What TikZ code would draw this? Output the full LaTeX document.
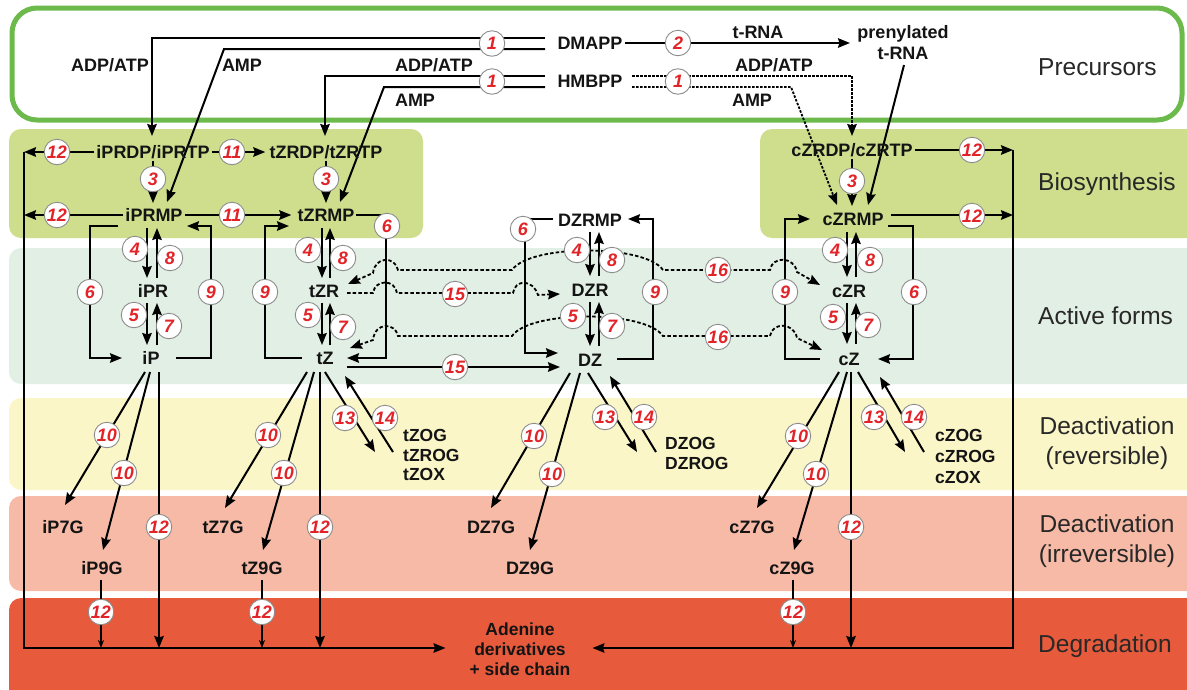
\documentclass[tikz,border=0pt]{standalone}
\usepackage{fontspec}
\setmainfont{Liberation Sans}
\usetikzlibrary{arrows.meta,calc}
\pgfdeclarelayer{bg}
\pgfdeclarelayer{lines}
\pgfsetlayers{bg,lines,main}
\definecolor{pregreen}{RGB}{108,186,76}
\definecolor{bio}{RGB}{206,222,140}
\definecolor{act}{RGB}{226,239,228}
\definecolor{dre}{RGB}{250,246,200}
\definecolor{dirr}{RGB}{246,186,166}
\definecolor{deg}{RGB}{231,90,60}
\definecolor{numred}{RGB}{226,35,40}
\definecolor{cgray}{RGB}{140,140,140}
\definecolor{txt}{RGB}{20,20,20}
\definecolor{rtxt}{RGB}{40,40,40}
\begin{document}
\begin{tikzpicture}[x=1pt,y=-1pt,
 >={Stealth[length=12pt,width=9.5pt,inset=1.5pt]},
 lbl/.style={font=\bfseries\fontsize{18}{21}\selectfont, text=txt, inner sep=2pt, text height=13pt, text depth=0pt},
 mlbl/.style={font=\bfseries\fontsize{18}{21}\selectfont, text=txt, inner sep=2pt, align=center},
 glbl/.style={font=\bfseries\fontsize{17.5}{#1}\selectfont, text=txt, inner sep=0pt, align=left, anchor=west},
 num/.style={circle, draw=cgray, line width=0.9pt, fill=white, minimum size=25.5pt, inner sep=0pt, font=\bfseries\itshape\fontsize{18}{18}\selectfont, text=numred},
 ln/.style={line width=2pt, draw=black},
 arr/.style={ln,->},
 dsh/.style={line width=1.8pt, dash pattern=on 3.5pt off 2.2pt},
 dotl/.style={line width=1.8pt, dash pattern=on 2.5pt off 1.5pt},
 thinarr/.style={line width=1.4pt, -{Stealth[length=8pt,width=6pt]}},
 region/.style={font=\fontsize{24.5}{30}\selectfont, text=rtxt, inner sep=0pt},
 rone/.style={region, anchor=west, text height=17.5pt, text depth=0pt},
 rtwo/.style={region, align=center},
]
\useasboundingbox (0,0) rectangle (1187,689);
\clip (0,0) rectangle (1187,689);

% ---------------- bands
\begin{pgfonlayer}{bg}
\fill[white] (0,0) rectangle (1187,689);
\draw[line width=5pt, draw=pregreen, fill=white, rounded corners=25pt] (12,8) rectangle (1182,120);
\fill[bio, rounded corners=12pt] (9,129) rectangle (423,238);
\fill[bio, rounded corners=12pt] (760,129) rectangle (1205,238);
\fill[act, rounded corners=12pt] (9,248) rectangle (1205,384);
\fill[dre, rounded corners=12pt] (9,398) rectangle (1205,490);
\fill[dirr, rounded corners=12pt] (9,496) rectangle (1205,591);
\fill[deg, rounded corners=12pt] (9,598) rectangle (1205,705);
\end{pgfonlayer}

% ---------------- region labels
\node[rone] (rPre) at (1038,67) {Precursors};
\node[rone] (rBio) at (1038,182) {Biosynthesis};
\node[rone] (rAct) at (1038,316) {Active forms};
\node[rtwo] (rDre) at (1107,443) {Deactivation\\(reversible)};
\node[rtwo] (rDir) at (1107,541) {Deactivation\\(irreversible)};
\node[rone] (rDeg) at (1038,644) {Degradation};

% ---------------- compound labels
\node[lbl] (DMAPP) at (590,43) {DMAPP};
\node[lbl] (HMBPP) at (590,81) {HMBPP};
\node[mlbl] (tRNAp) at (903,43) {prenylated\\t-RNA};
\node[lbl] (tRNA) at (758,32) {t-RNA};
\node[lbl] (adp1) at (110,65) {ADP/ATP};
\node[lbl] (amp1) at (242,65) {AMP};
\node[lbl] (adp2) at (434,65) {ADP/ATP};
\node[lbl] (amp2) at (415,100) {AMP};
\node[lbl] (adp3) at (774,65) {ADP/ATP};
\node[lbl] (amp3) at (752,100) {AMP};

\node[lbl] (iPRDP) at (153,152) {iPRDP/iPRTP};
\node[lbl] (tZRDP) at (326,152) {tZRDP/tZRTP};
\node[lbl] (cZRDP) at (852,150) {cZRDP/cZRTP};
\node[lbl] (iPRMP) at (154,215) {iPRMP};
\node[lbl] (tZRMP) at (326,215) {tZRMP};
\node[lbl] (DZRMP) at (590,220) {DZRMP};
\node[lbl] (cZRMP) at (853,219) {cZRMP};
\node[lbl] (iPR) at (153,291) {iPR};
\node[lbl] (tZR) at (324,291) {tZR};
\node[lbl] (DZR) at (590,290) {DZR};
\node[lbl] (cZR) at (849,291) {cZR};
\node[lbl] (iP) at (151,358) {iP};
\node[lbl] (tZ) at (325,358) {tZ};
\node[lbl] (DZ) at (590,360) {DZ};
\node[lbl] (cZ) at (849,359) {cZ};
\node[lbl] (iP7G) at (63,527) {iP7G};
\node[lbl] (iP9G) at (102,568) {iP9G};
\node[lbl] (tZ7G) at (223,527) {tZ7G};
\node[lbl] (tZ9G) at (262,568) {tZ9G};
\node[lbl] (DZ7G) at (491,527) {DZ7G};
\node[lbl] (DZ9G) at (530,568) {DZ9G};
\node[lbl] (cZ7G) at (752,527) {cZ7G};
\node[lbl] (cZ9G) at (792,568) {cZ9G};
\node[glbl=19.5] (tZOG) at (403,455) {tZOG\\tZROG\\tZOX};
\node[glbl=20] (DZOG) at (665,453) {DZOG\\DZROG};
\node[glbl=21] (cZOG) at (935,456) {cZOG\\cZROG\\cZOX};
\node[mlbl, font=\bfseries\fontsize{17.5}{20}\selectfont] (Aden) at (520,649) {Adenine\\derivatives\\+ side chain};

\coordinate (Ltop) at (24,152);
\coordinate (Lbot) at (24,648);
\coordinate (Rtop) at (1013,150);
\coordinate (Rbot) at (1013,648);

% ---------------- number circles
\node[num] (c1a) at (492,43.5) {1};
\node[num] (c1b) at (492,81.5) {1};
\node[num] (c1c) at (678,81.5) {1};
\node[num] (c2) at (678,43) {2};
\node[num] (c12a) at (57,152) {12};
\node[num] (c11a) at (232,152) {11};
\node[num] (c3a) at (153,179) {3};
\node[num] (c3b) at (326,179) {3};
\node[num] (c12b) at (57,215) {12};
\node[num] (c11b) at (232,215) {11};
\node[num] (c12c) at (972,150) {12};
\node[num] (c3c) at (852,181) {3};
\node[num] (c12d) at (972,216) {12};
% iP column
\node[num] (iP4) at (135,249) {4};
\node[num] (iP8) at (170,258) {8};
\node[num] (iP5) at (134,315) {5};
\node[num] (iP7) at (169,326) {7};
\node[num] (iP6) at (90,292) {6};
\node[num] (iP9) at (211,292) {9};
% tZ column
\node[num] (tZ4) at (308,250) {4};
\node[num] (tZ8) at (343,258) {8};
\node[num] (tZ5) at (308,315) {5};
\node[num] (tZ7) at (343,327) {7};
\node[num] (tZ9) at (265,292) {9};
\node[num] (tZ6) at (387,226) {6};
% DZ column
\node[num] (DZ6) at (523,229) {6};
\node[num] (DZ4) at (577,250) {4};
\node[num] (DZ8) at (612,260) {8};
\node[num] (DZ5) at (573,316) {5};
\node[num] (DZ7) at (612,326) {7};
\node[num] (DZ9) at (655,292) {9};
\node[num] (c15a) at (455,294) {15};
\node[num] (c15b) at (455,367) {15};
\node[num] (c16a) at (718,270) {16};
\node[num] (c16b) at (718,337) {16};
% cZ column
\node[num] (cZ9) at (785,292) {9};
\node[num] (cZ6) at (914,292) {6};
\node[num] (cZ4) at (835,250) {4};
\node[num] (cZ8) at (870,260) {8};
\node[num] (cZ5) at (833,317) {5};
\node[num] (cZ7) at (868,325) {7};
% deactivation
\node[num] (iP10a) at (107,435) {10};
\node[num] (iP10b) at (124,473) {10};
\node[num] (iP12) at (159,527) {12};
\node[num] (tZ10a) at (268,435) {10};
\node[num] (tZ10b) at (284,473) {10};
\node[num] (tZ12) at (320,527) {12};
\node[num] (tZ13) at (345,418) {13};
\node[num] (tZ14) at (385,418) {14};
\node[num] (DZ10a) at (534,436) {10};
\node[num] (DZ10b) at (552,474) {10};
\node[num] (DZ13) at (605,417) {13};
\node[num] (DZ14) at (644,417) {14};
\node[num] (cZ10a) at (798,436) {10};
\node[num] (cZ10b) at (816,474) {10};
\node[num] (cZ12) at (851,527) {12};
\node[num] (cZ13) at (874,417) {13};
\node[num] (cZ14) at (914,417) {14};
\node[num] (g12a) at (101,612) {12};
\node[num] (g12b) at (262,612) {12};
\node[num] (g12c) at (793,612) {12};

% ---------------- connectors
\begin{pgfonlayer}{lines}
% precursors
\draw[arr] ($(DMAPP)+(-45,-5)$) -| ($(iPRDP)+(-1,-16)$);
\draw[arr] ($(DMAPP)+(-45,6)$) -- (224,49) -- ($(iPRMP)+(13,-13)$);
\draw[arr] ($(HMBPP)+(-45,-5)$) -| ($(tZRDP)+(-1,-16)$);
\draw[arr] ($(HMBPP)+(-45,6)$) -- (384,87) -- ($(tZRMP)+(14,-13)$);
\draw[dotl,->] ($(HMBPP)+(42,-5)$) -| ($(cZRDP)+(0,-14)$);
\draw[dotl,->] ($(HMBPP)+(42,6)$) -- (791,87) -- ($(cZRMP)+(-16,-14)$);
\draw[arr] (DMAPP.east) -- ($(tRNAp)+(-53,0)$);
\draw[arr] ($(tRNAp)+(1,22)$) -- ($(cZRMP)+(15,-14)$);
% biosynthesis
\draw[arr] (iPRDP.west) -- (Ltop);
\draw[arr] (iPRDP.east) -- ($(tZRDP.west)+(-2,0)$);
\draw[arr] (iPRDP.south) -- ($(iPRMP)+(-1,-12)$);
\draw[arr] (tZRDP.south) -- ($(tZRMP)+(0,-12)$);
\draw[arr] (cZRDP.south) -- ($(cZRMP)+(-1,-13)$);
\draw[arr] (cZRDP.east) -- (Rtop);
\draw[arr] ($(cZRMP)+(38,-4)$) -- (Rtop |- 0,215);
\draw[arr] (iPRMP.west) -- (Ltop |- iPRMP);
\draw[arr] (iPRMP.east) -- ($(tZRMP.west)+(-4,0)$);
% side loops
\draw[arr] ($(iPRMP)+(-36,11)$) -- ++(-28,0) |- ($(iP)+(-29,0)$);
\draw[arr] ($(iP)+(25,0)$) -| ($(iPRMP)+(57,11)$) -- ($(iPRMP)+(33,11)$);
\draw[arr] ($(tZ)+(-23,0)$) -| ($(tZRMP)+(-61,11)$) -- ($(tZRMP)+(-37,11)$);
\draw[arr] ($(tZRMP)+(30,0)$) -| ($(tZ)+(61,0)$) -- ($(tZ)+(22,0)$);
\draw[arr] ($(DZRMP)+(-37,-1)$) -| ($(DZ)+(-65,-7)$) -- ($(DZ)+(-32,-7)$);
\draw[arr] ($(DZ)+(27,-1)$) -| ($(DZRMP)+(63,-1)$) -- ($(DZRMP)+(38,-1)$);
\draw[arr] ($(cZ)+(-29,0)$) -| ($(cZRMP)+(-68,0)$) -- ($(cZRMP)+(-43,0)$);
\draw[arr] ($(cZRMP)+(35,7)$) -| ($(cZ)+(64,0)$) -- ($(cZ)+(29,0)$);
% vertical pairs
\draw[arr] ($(iPRMP)+(-7,13)$) -- ($(iPR)+(-6,-13)$);
\draw[arr] ($(iPR)+(4,-13)$) -- ($(iPRMP)+(3,13)$);
\draw[arr] ($(iPR)+(-6,12)$) -- ($(iP)+(-4,-13)$);
\draw[arr] ($(iP)+(6,-13)$) -- ($(iPR)+(4,12)$);
\draw[arr] ($(tZRMP)+(-4,13)$) -- ($(tZR)+(-2,-13)$);
\draw[arr] ($(tZR)+(6,-13)$) -- ($(tZRMP)+(4,13)$);
\draw[arr] ($(tZR)+(-2,12)$) -- ($(tZ)+(-3,-13)$);
\draw[arr] ($(tZ)+(5,-13)$) -- ($(tZR)+(6,12)$);
\draw[arr] ($(DZRMP)+(0,12)$) -- ($(DZR)+(0,-14)$);
\draw[arr] ($(DZR)+(9,-14)$) -- ($(DZRMP)+(9,12)$);
\draw[arr] ($(DZR)+(0,12)$) -- ($(DZ)+(0,-14)$);
\draw[arr] ($(DZ)+(9,-14)$) -- ($(DZR)+(9,12)$);
\draw[arr] ($(cZRMP)+(-6,13)$) -- ($(cZR)+(-2,-14)$);
\draw[arr] ($(cZR)+(7,-14)$) -- ($(cZRMP)+(3,13)$);
\draw[arr] ($(cZR)+(-2,12)$) -- ($(cZ)+(-2,-15)$);
\draw[arr] ($(cZ)+(7,-15)$) -- ($(cZR)+(7,12)$);
% isomerisation / conversion lines
\draw[dsh,->] ($(tZR)+(23,2)$) -- (373,293) .. controls (375,279) and (395,279) .. (397,293) -- (513,293) .. controls (515,279) and (533,279) .. (538,295) -- ($(DZR)+(-30,4)$);
\draw[dsh,<->] ($(tZR)+(24,-7)$) -- (373,273) .. controls (375,256) and (395,256) .. (398,270) -- (512,270) .. controls (530,244) and (645,244) .. (663,270) -- (770,270) .. controls (772,256) and (794,256) .. (797,272) -- ($(cZR)+(-29,-6)$);
\draw[dsh,<->] ($(tZ)+(25,-10)$) -- (373,340) .. controls (375,322) and (395,322) .. (398,336) -- (512,336) .. controls (530,310) and (645,310) .. (663,336) -- (770,336) .. controls (772,322) and (794,322) .. (797,338) -- ($(cZ)+(-27,-9)$);
\draw[arr] ($(tZ)+(22,9)$) -- ($(DZ)+(-30,7)$);
% deactivation fans
\draw[arr] ($(iP)+(-6,14)$) -- ($(iP7G)+(2,-22)$);
\draw[arr] ($(iP)+(-1,14)$) -- ($(iP9G)+(1,-18)$);
\draw[arr] ($(iP)+(8,14)$) -- ++(0,276);
\draw[arr] ($(tZ)+(-18,14)$) -- ($(tZ7G)+(2,-19)$);
\draw[arr] ($(tZ)+(-11,14)$) -- ($(tZ9G)+(1,-18)$);
\draw[arr] ($(tZ)+(-5,14)$) -- ++(0,276);
\draw[arr] ($(tZ)+(0,14)$) -- ($(tZOG.west)+(-28,-3)$);
\draw[arr] ($(tZOG.west)+(-10,-3)$) -- ($(tZ)+(20,18)$);
\draw[arr] ($(DZ)+(-20,13)$) -- ($(DZ7G)+(0,-19)$);
\draw[arr] ($(DZ)+(-10,13)$) -- ($(DZ9G)+(0,-18)$);
\draw[arr] ($(DZ)+(-2,13)$) -- ($(DZOG.west)+(-28,-1)$);
\draw[arr] ($(DZOG.west)+(-9,-1)$) -- ($(DZ)+(20,16)$);
\draw[arr] ($(cZ)+(-10,13)$) -- ($(cZ7G)+(5,-19)$);
\draw[arr] ($(cZ)+(-2,13)$) -- ($(cZ9G)+(2,-18)$);
\draw[arr] ($(cZ)+(2,13)$) -- ++(0,276);
\draw[arr] ($(cZ)+(9,13)$) -- ($(cZOG.west)+(-30,-4)$);
\draw[arr] ($(cZOG.west)+(-11,-4)$) -- ($(cZ)+(31,18)$);
% degradation
\draw[thinarr] ($(iP9G)+(-1,12)$) -- ++(0,68);
\draw[thinarr] ($(tZ9G)+(0,12)$) -- ++(0,68);
\draw[thinarr] ($(cZ9G)+(1,12)$) -- ++(0,68);
\draw[arr, line width=1.7pt] (Ltop) -- (Lbot) -- ($(Aden.west)+(-22,-1)$);
\draw[arr, line width=1.7pt] (Rtop) -- (Rbot) -- ($(Aden.east)+(20,-1)$);
\end{pgfonlayer}
\end{tikzpicture}
\end{document}
